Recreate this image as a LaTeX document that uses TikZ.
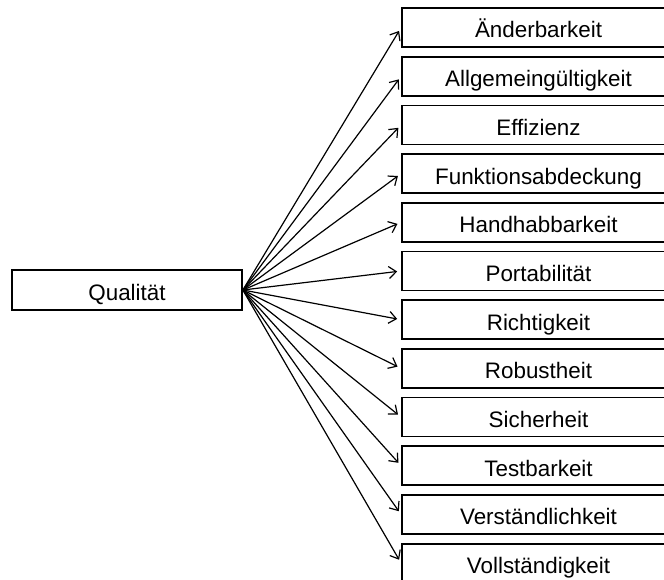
\documentclass[tikz,border=0pt]{standalone}
\usepackage{fontspec}
\setmainfont{Liberation Sans}
\usetikzlibrary{arrows.meta}
\begin{document}
\begin{tikzpicture}[x=0.75pt,y=-0.75pt,
  every node/.style={font=\fontsize{16.8}{20}\selectfont,text height=16pt,text depth=0.3pt},
  attr/.style={draw=black,line width=1.3pt,minimum width=204.75pt,minimum height=29.25pt,inner sep=0pt},
  root/.style={draw=black,line width=1.3pt,minimum width=172.5pt,minimum height=30pt,inner sep=0pt},
  link/.style={draw=black,line width=0.9pt,shorten >=3pt,-{Straight Barb[length=5.5pt,width=9pt,line width=0.9pt]}}]
\useasboundingbox (0,0) rectangle (664,579);
\clip (0,0) rectangle (664,579);
\node[root] (q) at (127,290) {Qualität};
\foreach \name [count=\i from 0] in {Änderbarkeit,Allgemeingültigkeit,Effizienz,Funktionsabdeckung,Handhabbarkeit,Portabilität,Richtigkeit,Robustheit,Sicherheit,Testbarkeit,Verständlichkeit,Vollständigkeit}{
  \node[attr] (b\i) at (538.5,{27.5+48.7*\i}) {\name};
  \draw[link] (q.east) -- (b\i.west);
}
\end{tikzpicture}
\end{document}
